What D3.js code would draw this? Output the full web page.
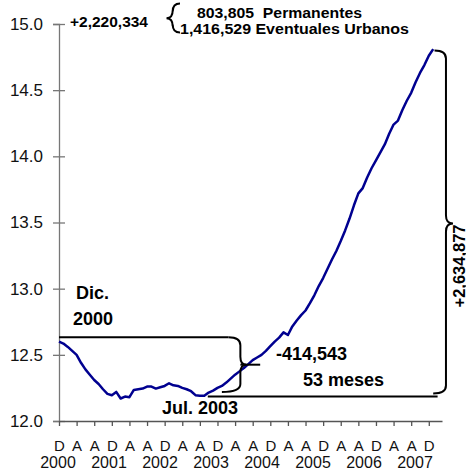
<!DOCTYPE html>
<html>
<head>
<meta charset="utf-8">
<script src="https://cdn.jsdelivr.net/npm/d3@7"></script>
<style>
  body { margin: 0; background: #fff; }
  svg { font-family: "Liberation Sans", Arial, sans-serif; }
</style>
</head>
<body>
<div id="chart"></div>
<script>
// monthly level (millions of workers), month 0 = Dec 2000
var values = [
  12.60, 12.585, 12.56, 12.53, 12.50, 12.44, 12.39, 12.35, 12.31, 12.28,
  12.24, 12.205, 12.195, 12.22, 12.17, 12.185, 12.18, 12.235, 12.24, 12.245,
  12.26, 12.26, 12.245, 12.255, 12.265, 12.285, 12.27, 12.265, 12.25, 12.24,
  12.225, 12.195, 12.19, 12.19, 12.215, 12.23, 12.25, 12.265, 12.29, 12.32,
  12.35, 12.375, 12.40, 12.43, 12.46, 12.48, 12.50, 12.53, 12.565, 12.60,
  12.63, 12.67, 12.65, 12.715, 12.76, 12.80, 12.835, 12.89, 12.95, 13.02,
  13.08, 13.15, 13.22, 13.285, 13.36, 13.44, 13.53, 13.63, 13.72, 13.76,
  13.84, 13.91, 13.97, 14.03, 14.09, 14.17, 14.24, 14.27, 14.35, 14.42,
  14.48, 14.56, 14.63, 14.69, 14.76, 14.81
];
var yTicks = [12.0, 12.5, 13.0, 13.5, 14.0, 14.5, 15.0];
var monthLetters = ["D","A","A","D","A","A","D","A","A","D","A","A","D","A","A","D","A","A","D","A","A","D"];
var years = ["2000","2001","2002","2003","2004","2005","2006","2007"];

// annotation levels
var levelDec2000 = 12.632, levelLow = 12.219, levelJul2003 = 12.185, levelDec2007 = 14.80;
var topTotal = "+2,220,334";
var topParts = ["803,805  Permanentes", "1,416,529 Eventuales Urbanos"];

var svg = d3.select("#chart").append("svg")
    .attr("width", 466)
    .attr("height", 476);

var x = d3.scaleLinear().domain([0, 87]).range([59, 442]);
var y = d3.scaleLinear().domain([12, 15]).range([421, 24]);
var yearX = d3.scalePoint().domain(years).range([58, 415]);

// y axis
var yAxis = svg.append("g")
    .attr("transform", "translate(" + x(0) + ",0)")
    .call(d3.axisLeft(y).tickValues(yTicks).tickFormat(d3.format(".1f")).tickSize(6).tickPadding(10));
yAxis.select(".domain").attr("stroke", "#777").attr("stroke-width", 1.3);
yAxis.selectAll(".tick line").attr("stroke", "#777").attr("x2", 6).attr("x1", -6).attr("stroke-width", 1.3);
yAxis.selectAll(".tick text").attr("font-size", 17).attr("fill", "#111")
    .attr("font-family", "Liberation Sans, Arial, sans-serif");

// x axis
var tickMonths = monthLetters.map(function(d, i) { return i * 4; });
var xAxis = svg.append("g")
    .attr("transform", "translate(0," + y(12) + ")")
    .call(d3.axisBottom(x).tickValues(tickMonths).tickSizeInner(5).tickSizeOuter(0)
      .tickFormat(function(d, i) { return monthLetters[i]; }).tickPadding(14));
xAxis.select(".domain").attr("stroke", "#555").attr("stroke-width", 1.3);
xAxis.selectAll(".tick line").attr("stroke", "#555").attr("stroke-width", 1.3);
xAxis.selectAll(".tick text").attr("font-size", 15).attr("fill", "#111")
    .attr("font-family", "Liberation Sans, Arial, sans-serif");

svg.append("g").selectAll("text")
  .data(years)
  .enter().append("text")
    .attr("x", function(d) { return yearX(d); })
    .attr("y", 468)
    .attr("text-anchor", "middle")
    .attr("font-size", 16)
    .attr("fill", "#111")
    .text(function(d) { return d; });

// series
var line = d3.line()
    .x(function(d, i) { return x(i); })
    .y(function(d) { return y(d); });

svg.append("path")
    .datum(values)
    .attr("d", line)
    .attr("fill", "none")
    .attr("stroke", "#000090")
    .attr("stroke-width", 2.5)
    .attr("stroke-linejoin", "round");

// vertical curly brace from y0 to y1, tip at (tipX, ym)
function brace(xArm0, xArm1, xb, y0, y1, tipX, ym) {
  var r = 8;
  return "M" + xArm0 + "," + y0 +
    " Q" + xb + "," + y0 + " " + xb + "," + (y0 + r) +
    " L" + xb + "," + (ym - r) +
    " Q" + xb + "," + ym + " " + tipX + "," + ym +
    " Q" + xb + "," + ym + " " + xb + "," + (ym + r) +
    " L" + xb + "," + (y1 - r) +
    " Q" + xb + "," + y1 + " " + xArm1 + "," + y1;
}

var ann = svg.append("g").attr("fill", "none").attr("stroke", "#000").attr("stroke-width", 2);

// Dec 2000 reference line and brace down to the 2003 low
var midLeft = (y(levelDec2000) + y(levelLow)) / 2;
ann.append("line")
    .attr("x1", x(0)).attr("x2", x(38.5))
    .attr("y1", y(levelDec2000)).attr("y2", y(levelDec2000));
ann.append("path")
    .attr("d", brace(x(38.5), x(37), x(41.2), y(levelDec2000), y(levelLow), x(41.2) + 6, midLeft));
ann.append("line")
    .attr("x1", x(41.2)).attr("x2", x(45.7))
    .attr("y1", midLeft).attr("y2", midLeft);

// Jul 2003 line and brace up to Dec 2007
var midRight = (y(levelDec2007) + y(levelJul2003)) / 2;
ann.append("line")
    .attr("x1", x(33.8)).attr("x2", x(86))
    .attr("y1", y(levelJul2003)).attr("y2", y(levelJul2003));
ann.append("path")
    .attr("d", brace(x(85.3), x(85), x(87.9), y(levelDec2007), y(levelJul2003) - 3, x(89.5), midRight));

// top brace
ann.append("path")
    .attr("d", brace(180, 180, 172.7, 3.5, 32.5, 166.5, 18.3));

// texts
var txt = svg.append("g").attr("font-weight", "bold").attr("fill", "#000");
txt.append("text").attr("x", 70).attr("y", 27).attr("font-size", 14.5)
    .attr("textLength", 78).attr("lengthAdjust", "spacingAndGlyphs").text(topTotal);
txt.append("text").attr("x", 197).attr("y", 17.5).attr("font-size", 14.5).attr("xml:space", "preserve")
    .attr("textLength", 165).attr("lengthAdjust", "spacingAndGlyphs").text(topParts[0]);
txt.append("text").attr("x", 180).attr("y", 34).attr("font-size", 14.5)
    .attr("textLength", 229).attr("lengthAdjust", "spacingAndGlyphs").text(topParts[1]);

txt.append("text").attr("x", 76).attr("y", 299).attr("font-size", 18).text("Dic.");
txt.append("text").attr("x", 73).attr("y", 325).attr("font-size", 18).text("2000");
txt.append("text").attr("x", 162).attr("y", 414).attr("font-size", 18).text("Jul. 2003");
txt.append("text").attr("x", 276).attr("y", 360).attr("font-size", 18).text("-414,543");
txt.append("text").attr("x", 303).attr("y", 386).attr("font-size", 18).text("53 meses");
txt.append("text")
    .attr("transform", "translate(464.5," + (midRight + 84) + ") rotate(-90)")
    .attr("font-size", 16.5)
    .text("+2,634,877");
</script>
</body>
</html>
